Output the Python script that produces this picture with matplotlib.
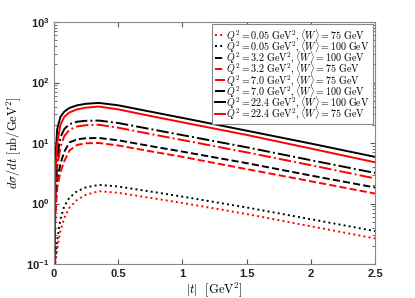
import numpy as np
import matplotlib
matplotlib.use('Agg')
import matplotlib.pyplot as plt

plt.rcParams['mathtext.fontset'] = 'cm'
plt.rcParams['font.family'] = 'Liberation Sans'

t = [0.003, 0.01, 0.025, 0.05, 0.08, 0.12, 0.18, 0.25, 0.35, 0.5, 0.75, 1.0, 1.5, 2.0, 2.5]

# dsigma/dt (nb/GeV^2)
q005_w75 = [0.07, 0.1, 0.18, 0.35, 0.58, 0.85, 1.15, 1.4, 1.6, 1.5, 1.24, 1.02, 0.67, 0.42, 0.265]
q005_w100 = [0.08, 0.12, 0.25, 0.55, 0.9, 1.25, 1.6, 1.85, 2.03, 1.91, 1.58, 1.3, 0.86, 0.55, 0.35]
q32_w100 = [0.1, 0.8, 2.5, 4.5, 7.2, 10.2, 11.5, 12.0, 12.1, 11.1, 8.9, 7.2, 4.65, 2.9, 1.84]
q32_w75 = [0.1, 0.6, 1.8, 3.3, 5.0, 7.5, 9.3, 9.9, 10.0, 9.1, 7.3, 5.9, 3.7, 2.33, 1.46]
q70_w75 = [0.1, 1.0, 4.0, 8.5, 13.0, 16.5, 18.8, 19.7, 20.0, 17.9, 14.1, 11.2, 7.0, 4.3, 2.6]
q70_w100 = [0.12, 1.5, 6.0, 12.4, 17.0, 20.5, 22.5, 23.3, 23.5, 21.4, 17.0, 13.5, 8.5, 5.2, 3.2]
q224_w100 = [0.15, 5.0, 17.0, 27.0, 33.0, 38.0, 42.0, 44.5, 46.0, 42.0, 33.0, 26.0, 16.0, 9.8, 5.9]
q224_w75 = [0.12, 3.0, 10.0, 20.0, 27.0, 32.0, 36.0, 38.5, 40.0, 36.0, 28.0, 22.0, 13.6, 8.1, 4.8]

series = [
    (q005_w75, 'red', ':', r'$Q^2 = 0.05\ \mathrm{GeV}^2, \langle W\rangle = 75\ \mathrm{GeV}$'),
    (q005_w100, 'black', ':', r'$Q^2 = 0.05\ \mathrm{GeV}^2, \langle W\rangle = 100\ \mathrm{GeV}$'),
    (q32_w100, 'black', '--', r'$Q^2 = 3.2\ \mathrm{GeV}^2, \langle W\rangle = 100\ \mathrm{GeV}$'),
    (q32_w75, 'red', '--', r'$Q^2 = 3.2\ \mathrm{GeV}^2, \langle W\rangle = 75\ \mathrm{GeV}$'),
    (q70_w75, 'red', '-.', r'$Q^2 = 7.0\ \mathrm{GeV}^2, \langle W\rangle = 75\ \mathrm{GeV}$'),
    (q70_w100, 'black', '-.', r'$Q^2 = 7.0\ \mathrm{GeV}^2, \langle W\rangle = 100\ \mathrm{GeV}$'),
    (q224_w100, 'black', '-', r'$Q^2 = 22.4\ \mathrm{GeV}^2, \langle W\rangle = 100\ \mathrm{GeV}$'),
    (q224_w75, 'red', '-', r'$Q^2 = 22.4\ \mathrm{GeV}^2, \langle W\rangle = 75\ \mathrm{GeV}$'),
]

fig = plt.figure(figsize=(4.15, 2.98), dpi=100)
ax = fig.add_axes([54 / 415, 1 - 264 / 298, 321 / 415, 242 / 298])

for vals, col, ls, lab in series:
    ax.plot(t, vals, color=col, linestyle=ls, linewidth=1.4, label=lab)

ax.set_yscale('log')
ax.set_xlim(0, 2.5)
ax.set_ylim(0.1, 1000)
ax.set_xticks([0, 0.5, 1, 1.5, 2, 2.5])
ax.set_xticklabels(['0', '0.5', '1', '1.5', '2', '2.5'])
ax.tick_params(which='both', direction='in', top=True, right=True, labelsize=8, colors='#555555',
               labelcolor='#222222')
ax.tick_params(which='major', length=3.5)
ax.tick_params(which='minor', length=2)
for lbl in ax.get_xticklabels() + ax.get_yticklabels():
    lbl.set_fontweight('bold')
for sp in ax.spines.values():
    sp.set_color('#888888')

ax.set_xlabel(r'$|t|\ \ [\mathrm{GeV}^2]$', fontsize=9, labelpad=1)
ax.set_ylabel(r'$d\sigma/dt\ [\mathrm{nb/GeV}^2]$', fontsize=9, labelpad=2)

# tight rows, like the LaTeX legend of the original
leg = ax.legend(loc='upper right', fontsize=7.2, handlelength=1.0, handletextpad=0.1,
                labelspacing=-0.45, borderpad=0.3, borderaxespad=0.2, fancybox=False,
                framealpha=1)
leg.get_frame().set_edgecolor('#888888')
leg.get_frame().set_linewidth(0.8)

fig.savefig('out.png', dpi=100)
